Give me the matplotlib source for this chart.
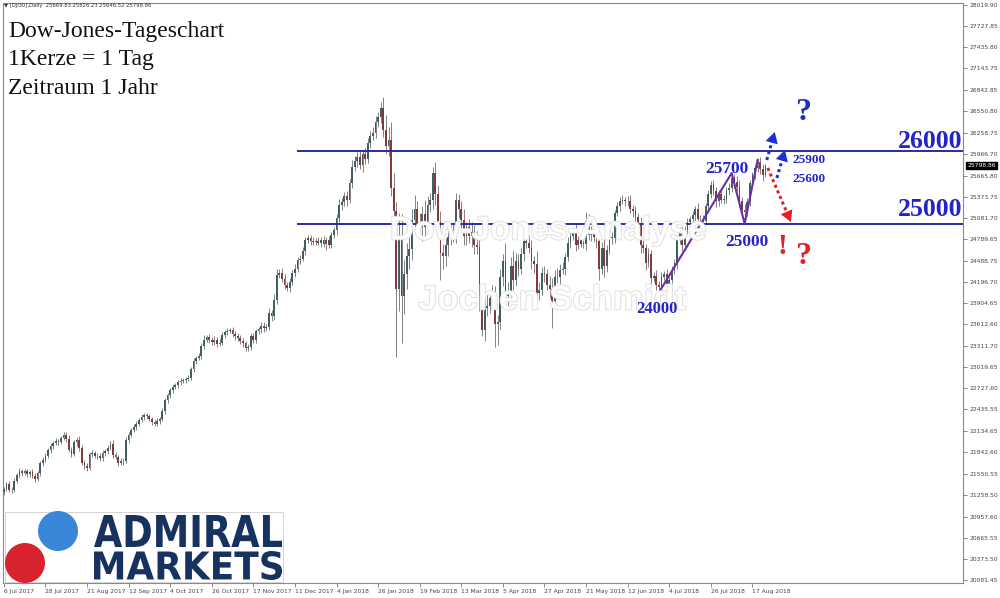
import numpy as np
import matplotlib.pyplot as plt
from matplotlib.patches import Rectangle, Circle, PathPatch
from matplotlib.textpath import TextPath
from matplotlib.font_manager import FontProperties
from matplotlib.transforms import Affine2D
import matplotlib.patheffects as pe

# daily closes, 6 Jul 2017 .. 24 Aug 2018 (16 bars per row = one x tick)
closes = [
    21340, 21400, 21330, 21320, 21450, 21530, 21590, 21560, 21580, 21540, 21570, 21520, 21480, 21560, 21690, 21740,
    21800, 21870, 21930, 21970, 22000, 21990, 22040, 22080, 22030, 21880, 21820, 21990, 22010, 21900, 21700, 21660,
    21630, 21820, 21830, 21790, 21800, 21760, 21830, 21860, 21900, 21960, 21810, 21780, 21700, 21730, 21720, 22010,
    22090, 22150, 22190, 22240, 22290, 22330, 22360, 22340, 22300, 22260, 22240, 22280, 22300, 22420, 22560, 22640,
    22700, 22750, 22770, 22810, 22830, 22840, 22860, 22870, 22990, 23100, 23150, 23170, 23310, 23400, 23440, 23390,
    23370, 23400, 23340, 23360, 23470, 23500, 23520, 23530, 23480, 23450, 23420, 23380, 23350, 23280, 23300, 23450,
    23400, 23520, 23540, 23590, 23560, 23580, 23770, 23720, 23950, 24290, 24320, 24240, 24160, 24110, 24200, 24320,
    24380, 24500, 24520, 24620, 24780, 24800, 24760, 24750, 24760, 24740, 24770, 24720, 24780, 24710, 24840, 24910,
    25080, 25260, 25300, 25380, 25330, 25560, 25790, 25860, 25920, 25810, 25960, 25900, 26120, 26210, 26250, 26400,
    26470, 26600, 26300, 26080, 26150, 25500, 25180, 24100, 24850, 24000, 24300, 24560, 24650, 25050, 25200, 25000,
    24960, 25130, 24960, 25260, 25330, 25700, 25410, 25030, 24600, 24560, 24700, 24820, 24850, 24890, 25330, 25200,
    25050, 24830, 24950, 24830, 24880, 24700, 24680, 24000, 23530, 23840, 23870, 23980, 24010, 23620, 23640, 24260,
    24480, 24000, 24050, 24420, 24220, 24480, 24380, 24580, 24760, 24740, 24660, 24480, 24440, 24050, 24090, 24320,
    24300, 24160, 24100, 23930, 24260, 24270, 24360, 24370, 24540, 24740, 24830, 24900, 24710, 24770, 24720, 24720,
    25040, 24840, 24890, 24810, 24760, 24370, 24670, 24420, 24640, 24810, 24800, 25150, 25240, 25320, 25330, 25320,
    25310, 25200, 25170, 25090, 24990, 24700, 24660, 24460, 24580, 24250, 24280, 24150, 24120, 24270, 24310, 24170,
    24230, 24360, 24460, 24780, 24920, 24700, 24920, 25020, 25060, 25120, 25200, 25060, 25060, 25040, 25240, 25410,
    25530, 25450, 25310, 25410, 25330, 25330, 25460, 25500, 25630, 25580, 25510, 25310, 25190, 25160, 25300, 25560,
    25680, 25770, 25850, 25760, 25669.83, 25798.86,
]
first_open = 21300

# wick length above / below the body, in points
wick_up = [
    30, 40, 50, 30, 40, 30, 40, 30, 30, 40, 30, 50, 40, 30, 30, 40,
    30, 30, 40, 30, 40, 30, 30, 40, 40, 50, 40, 30, 40, 60, 50, 40,
    40, 30, 40, 30, 40, 30, 40, 30, 40, 40, 50, 40, 30, 40, 30, 40,
    40, 30, 40, 30, 30, 40, 30, 30, 40, 30, 30, 40, 30, 30, 40, 30,
    30, 40, 30, 30, 40, 30, 30, 40, 30, 40, 30, 40, 40, 60, 30, 40,
    40, 50, 40, 60, 40, 30, 40, 30, 50, 40, 40, 50, 40, 30, 40, 40,
    40, 30, 40, 60, 50, 40, 60, 40, 80, 90, 60, 70, 60, 40, 50, 40,
    60, 40, 50, 60, 40, 50, 40, 60, 40, 50, 40, 60, 40, 50, 40, 40,
    60, 80, 50, 60, 70, 60, 90, 80, 70, 100, 60, 80, 60, 70, 80, 90,
    70, 80, 150, 200, 180, 250, 200, 120, 300, 280, 200, 180, 160, 150, 200, 120,
    150, 120, 200, 120, 100, 80, 150, 120, 150, 120, 100, 120, 140, 100, 90, 80,
    120, 150, 80, 120, 150, 100, 200, 120, 150, 120, 180, 100, 150, 130, 100, 120,
    100, 250, 150, 120, 200, 120, 100, 80, 60, 80, 100, 120, 80, 180, 100, 80,
    100, 80, 120, 150, 100, 120, 80, 100, 60, 80, 60, 40, 100, 60, 80, 60,
    120, 100, 80, 80, 60, 100, 80, 120, 60, 50, 80, 40, 60, 50, 70, 40,
    60, 80, 60, 80, 60, 100, 80, 60, 80, 60, 60, 80, 60, 60, 40, 60,
    40, 60, 50, 60, 40, 80, 50, 60, 50, 50, 40, 80, 60, 60, 40, 50,
    60, 80, 60, 60, 80, 60, 50, 60, 70, 60, 80, 100, 60, 80, 60, 40,
    40, 40, 60, 70, 60, 27,
]
wick_dn = [
    40, 30, 30, 40, 30, 30, 40, 40, 30, 30, 40, 30, 40, 30, 40, 30,
    30, 40, 30, 40, 30, 40, 30, 30, 40, 30, 40, 30, 60, 40, 30, 40,
    40, 30, 40, 30, 40, 40, 30, 30, 40, 30, 40, 30, 40, 30, 50, 30,
    40, 30, 30, 40, 30, 30, 40, 30, 30, 40, 30, 30, 40, 30, 40, 30,
    40, 30, 30, 40, 30, 30, 40, 30, 30, 40, 30, 30, 40, 40, 30, 40,
    40, 50, 40, 30, 40, 50, 40, 30, 40, 50, 40, 40, 50, 40, 40, 50,
    50, 40, 40, 50, 60, 40, 50, 60, 50, 60, 40, 50, 60, 40, 50, 40,
    50, 40, 60, 40, 50, 40, 60, 40, 50, 40, 60, 40, 80, 40, 50, 40,
    60, 50, 70, 60, 80, 50, 70, 60, 80, 60, 90, 70, 60, 80, 60, 70,
    60, 80, 100, 120, 150, 120, 150, 940, 300, 650, 250, 200, 180, 150, 100, 150,
    150, 200, 180, 150, 100, 120, 150, 150, 380, 180, 150, 150, 120, 100, 150, 120,
    150, 120, 130, 100, 150, 120, 100, 200, 80, 150, 120, 100, 120, 320, 300, 100,
    120, 100, 150, 100, 130, 80, 100, 80, 100, 80, 60, 100, 120, 150, 100, 80,
    100, 80, 120, 370, 100, 80, 100, 60, 80, 60, 80, 60, 80, 60, 40, 60,
    80, 60, 80, 60, 100, 150, 60, 150, 80, 60, 80, 60, 40, 60, 50, 70,
    60, 50, 80, 60, 80, 100, 60, 100, 60, 80, 60, 60, 40, 80, 50, 60,
    40, 50, 60, 80, 60, 80, 60, 60, 50, 60, 80, 60, 60, 60, 50, 60,
    60, 50, 80, 60, 50, 60, 50, 60, 60, 80, 60, 80, 80, 160, 60, 50,
    50, 60, 60, 70, 80, 23,
]

tick_dates = ["6 Jul 2017", "28 Jul 2017", "21 Aug 2017", "12 Sep 2017", "4 Oct 2017",
              "26 Oct 2017", "17 Nov 2017", "11 Dec 2017", "4 Jan 2018", "26 Jan 2018",
              "19 Feb 2018", "13 Mar 2018", "5 Apr 2018", "27 Apr 2018", "21 May 2018",
              "12 Jun 2018", "4 Jul 2018", "26 Jul 2018", "17 Aug 2018"]
price_labels = ["28019.90", "27727.85", "27435.80", "27143.75", "26842.85", "26550.80",
                "26258.75", "25966.70", "25665.80", "25373.75", "25081.70", "24789.65",
                "24488.75", "24196.70", "23904.65", "23612.60", "23311.70", "23019.65",
                "22727.60", "22435.55", "22134.65", "21842.60", "21550.55", "21258.50",
                "20957.60", "20665.55", "20373.50", "20081.45"]
levels = [26000, 25000]
last_price = 25798.86

# wave sketch (bar index, price)
zig_idx = [252.6, 280.0, 285.0, 290.0]
zig_price = [24085, 25700, 25000, 25880]
# dotted scenario arrows: (start idx, start price, tip idx, tip price, colour)
arrows = [(293.5, 25880, 296.6, 26267, '#1f2fd0'),
          (297.4, 25632, 300.5, 26018, '#1f2fd0'),
          (293.9, 25770, 302.8, 25024, '#e02424')]

closes = np.array(closes, dtype=float)
opens = np.concatenate([[first_open], closes[:-1]])
highs = np.maximum(opens, closes) + np.array(wick_up)
lows = np.minimum(opens, closes) - np.array(wick_dn)
idx = np.arange(len(closes))

fig = plt.figure(figsize=(10, 5.98), dpi=100)
ax = fig.add_axes([0.003, 15 / 598, 0.960, 580 / 598])

bull = closes >= opens
body_col = np.where(bull, '#3f5e66', '#84393a')
ax.vlines(idx, lows, highs, color='#6e6e6e', lw=0.6, zorder=2)
body_h = np.maximum(np.abs(closes - opens), 10)
ax.bar(idx, body_h, bottom=np.minimum(opens, closes), width=0.66,
       color=body_col, linewidth=0, zorder=3)

for lv in levels:
    ax.plot([113.2, 370], [lv, lv], color='#2a2aa8', lw=1.4, zorder=4)

ax.plot(zig_idx, zig_price, color='#6a2fa8', lw=1.5, zorder=6)
for x0, y0, x1, y1, c in arrows:
    ax.plot([x0, x0 + (x1 - x0) * 0.8], [y0, y0 + (y1 - y0) * 0.8],
            color=c, lw=2.2, ls=(0, (1, 1)), zorder=6)
    ax.annotate('', xy=(x1, y1), xytext=(x0, y0),
                arrowprops=dict(arrowstyle='-|>,head_length=0.8,head_width=0.45',
                                color=c, lw=0, shrinkA=0, shrinkB=0, mutation_scale=10),
                zorder=6)

ax.set_xlim(-0.3, 369)
ax.set_ylim(20040, 28047.5)
ax.set_xticks(idx[::16])
ax.set_xticklabels(tick_dates, ha='left', fontsize=4.3, color='#444444')
ax.yaxis.tick_right()
ax.set_yticks([float(p) for p in price_labels])
ax.set_yticklabels(price_labels, fontsize=4.3, color='#444444')
ax.tick_params(axis='both', length=3, width=0.6, color='#777777', pad=1.5)
for s in ax.spines.values():
    s.set_color('#8a8a8a')
    s.set_linewidth(0.8)

ax.annotate(f'{last_price:.2f}', xy=(1, last_price), xycoords=('axes fraction', 'data'),
            xytext=(3, 0), textcoords='offset points', va='center', ha='left',
            fontsize=4.3, color='white',
            bbox=dict(boxstyle='square,pad=0.15', fc='black', ec='black'))

# overlay in pixel coordinates (y from top)
ov = fig.add_axes([0, 0, 1, 1], zorder=5)
ov.set_xlim(0, 1000)
ov.set_ylim(598, 0)
ov.axis('off')
ov.patch.set_alpha(0)

serif = 'Liberation Serif'
ov.text(4, 6, '\u25bc [DJI30],Daily  25669.83 25826.23 25646.52 25798.86',
        fontsize=3.8, color='#333333', va='center')
for y, s in zip([32, 60, 88], ['Dow-Jones-Tageschart', '1Kerze = 1 Tag', 'Zeitraum 1 Jahr']):
    ov.text(8, y, s, family=serif, fontsize=17, color='#111111', va='center')

wm = [pe.withStroke(linewidth=1.2, foreground='#d9d9d9')]
ov.text(390, 231, 'Dow-Jones-Analyse', family='Liberation Sans', weight='bold',
        fontsize=24, color='white', alpha=0.85, va='center', path_effects=wm)
ov.text(418, 300, 'Jochen Schmidt', family='Liberation Sans', weight='bold',
        fontsize=25, color='white', alpha=0.85, va='center', path_effects=wm)

blue = '#2323c8'
ov.text(930, 141, '26000', family=serif, weight='bold', fontsize=18.5, color=blue, ha='center', va='center')
ov.text(930, 209, '25000', family=serif, weight='bold', fontsize=18.5, color=blue, ha='center', va='center')
ov.text(727, 169, '25700', family=serif, weight='bold', fontsize=12.5, color=blue, ha='center', va='center')
ov.text(747, 242, '25000', family=serif, weight='bold', fontsize=12.5, color=blue, ha='center', va='center')
ov.text(657, 309, '24000', family=serif, weight='bold', fontsize=12, color=blue, ha='center', va='center')
ov.text(809, 160, '25900', family=serif, weight='bold', fontsize=9.5, color=blue, ha='center', va='center')
ov.text(809, 179, '25600', family=serif, weight='bold', fontsize=9.5, color=blue, ha='center', va='center')
ov.text(803, 112, '?', family=serif, weight='bold', fontsize=23, color='#1f2fbf', ha='center', va='center')
ov.text(782, 246, '!', family=serif, weight='bold', fontsize=21, color='#e02424', ha='center', va='center')
ov.text(803, 256, '?', family=serif, weight='bold', fontsize=23, color='#e02424', ha='center', va='center')

# logo
ov.add_patch(Rectangle((5, 512), 278, 70, fc='white', ec='#cfcfcf', lw=0.6))
ov.add_patch(Circle((58, 531), 20, fc='#3a86d8', ec='none'))
ov.add_patch(Circle((25, 563), 20, fc='#d8232f', ec='none'))


def fit_text(s, x0, y0, x1, y1, color):
    tp = TextPath((0, 0), s, size=10, prop=FontProperties(family='DejaVu Sans', weight='bold'))
    bb = tp.get_extents()
    tr = (Affine2D().translate(-bb.x0, -bb.y0)
          .scale((x1 - x0) / bb.width, -(y1 - y0) / bb.height).translate(x0, y1))
    ov.add_patch(PathPatch(tr.transform_path(tp), fc=color, lw=0))


fit_text('ADMIRAL', 94, 515, 282, 547, '#17325e')
fit_text('MARKETS', 94, 551, 282, 580, '#17325e')

fig.savefig('out.png', dpi=100)
